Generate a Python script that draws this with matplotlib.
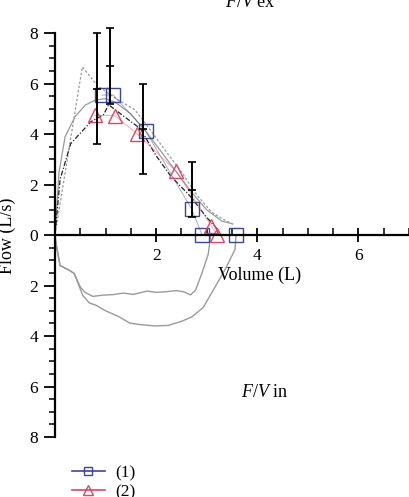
import matplotlib
matplotlib.use("Agg")
import matplotlib.pyplot as plt
from matplotlib.colors import to_rgba
from matplotlib.lines import Line2D
import numpy as np

plt.rcParams["font.family"] = ["Liberation Serif", "DejaVu Serif"]
plt.rcParams["mathtext.fontset"] = "custom"
plt.rcParams["mathtext.it"] = "Liberation Serif:italic"
plt.rcParams["mathtext.rm"] = "Liberation Serif"

# ---- data (volume L, flow L/s; inspiration negative) -----------------
s1_vol = [0.93, 1.15, 1.79, 2.70, 2.91, 3.58]
s1_flow = [5.54, 5.55, 4.13, 1.04, 0.0, 0.0]

s2_vol = [0.79, 1.18, 1.62, 2.40, 3.09, 3.21]
s2_flow = [4.74, 4.73, 4.02, 2.52, 0.36, 0.0]

err_vol = [0.83, 1.09, 1.74, 2.70]
err_mean = [5.8, 6.7, 4.2, 1.8]
err_sd = [2.2, 1.5, 1.8, 1.1]

peak_vol = [0.0, 0.54, 0.85, 1.2, 1.58, 1.76, 2.2, 2.5, 2.8, 3.1, 3.35, 3.55]
peak_flow = [0.0, 6.66, 5.9, 5.41, 4.96, 4.5, 3.3, 2.5, 1.6, 0.9, 0.6, 0.4]

round_vol = [0.0, 0.08, 0.2, 0.4, 0.6, 0.8, 1.0, 1.2, 1.5, 1.8, 2.1, 2.4, 2.7, 3.0, 3.3, 3.5]
round_flow = [0.0, 2.5, 3.9, 4.7, 5.15, 5.35, 5.4, 5.25, 4.8, 4.1, 3.3, 2.5, 1.7, 1.0, 0.55, 0.45]

mean_vol = [0.0, 0.1, 0.31, 0.71, 0.96, 1.06, 1.69, 1.99, 2.29, 2.67, 3.0, 3.22]
mean_flow = [0.0, 2.2, 3.62, 4.49, 4.77, 5.16, 4.21, 3.17, 2.33, 1.55, 0.7, 0.21]

in1_vol = [0.0, 0.02, 0.10, 0.26, 0.38, 0.50, 0.60, 0.75, 0.95, 1.15, 1.35, 1.55,
           1.82, 2.0, 2.22, 2.4, 2.55, 2.68, 2.78, 2.90, 3.03, 3.08]
in1_flow = [0.0, -0.33, -1.21, -1.37, -1.52, -2.06, -2.28, -2.43, -2.38, -2.36, -2.30, -2.35,
            -2.22, -2.27, -2.24, -2.20, -2.25, -2.37, -2.18, -1.54, -0.76, 0.0]

in2_vol = [0.0, 0.02, 0.10, 0.26, 0.38, 0.55, 0.68, 0.81, 1.0, 1.26, 1.48, 1.7,
           1.97, 2.24, 2.51, 2.71, 2.93, 3.15, 3.37, 3.56, 3.58]
in2_flow = [0.0, -0.33, -1.21, -1.37, -1.52, -2.4, -2.69, -2.78, -3.0, -3.23, -3.49, -3.55,
            -3.6, -3.58, -3.41, -3.24, -2.87, -2.11, -1.34, -0.57, 0.0]

yticks = [-8, -6, -4, -2, 0, 2, 4, 6, 8]
ytick_labels = ["8", "6", "4", "2", "0", "2", "4", "6", "8"]
xticks = [2, 4, 6]

BLUE = "#3d4796"
RED = "#d2496a"
GREY = "#9a9a9a"

fig = plt.figure(figsize=(4.09, 4.97), dpi=100)
ax = fig.add_axes([55 / 409, 1 - 437 / 497, 1 - 55 / 409, (437 - 23) / 497])

# gray individual curves
ax.plot(peak_vol, peak_flow, color=GREY, lw=0.9, ls=(0, (2, 1.5)))
ax.plot(round_vol, round_flow, color=GREY, lw=0.9)
ax.plot(in1_vol, in1_flow, color=GREY, lw=1.0)
ax.plot(in2_vol, in2_flow, color=GREY, lw=1.0)
ax.plot(mean_vol, mean_flow, color="#222222", lw=0.9, ls=(0, (4, 1.5, 1, 1.5)))

# series lines (faint) and markers (solid outline)
ax.plot(s1_vol, s1_flow, color=to_rgba(BLUE, 0.45), lw=0.7, marker="s", ms=10,
        mfc="none", mec=BLUE, mew=1.0)
ax.plot(s2_vol, s2_flow, color=to_rgba(RED, 0.45), lw=0.7, marker="^", ms=10,
        mfc="none", mec=RED, mew=1.0)

ax.errorbar(err_vol, err_mean, yerr=err_sd, fmt="_", color="black", ms=6,
            elinewidth=1.4, capsize=3, capthick=1.2, mew=1.2)

# axes styling
ax.set_xlim(0, 7.0)
ax.set_ylim(-8, 8.4)
for side in ("top", "right"):
    ax.spines[side].set_visible(False)
ax.spines["left"].set_position(("data", 0))
ax.spines["bottom"].set_position(("data", 0))
ax.spines["left"].set_bounds(-8, 8)
ax.spines["left"].set_linewidth(1.6)
ax.spines["bottom"].set_linewidth(1.6)

ax.set_yticks(yticks)
ax.set_yticklabels(ytick_labels)
ax.set_yticks(np.arange(-8, 8.01, 0.5), minor=True)
ax.set_xticks(xticks)
ax.set_xticks(np.arange(0.5, 7.01, 0.5), minor=True)
ax.tick_params(axis="y", which="major", direction="out", length=8, width=1.3,
               labelsize=12.5, pad=4)
ax.tick_params(axis="y", which="minor", direction="out", length=4, width=1.1)
ax.tick_params(axis="x", which="major", direction="inout", length=10, width=1.3,
               labelsize=12.5, pad=4)
ax.tick_params(axis="x", which="minor", direction="in", length=5, width=1.1)

# annotations
fig.text(250 / 409, 1 - 7 / 497, "$F/V$ ex", ha="center", va="baseline", fontsize=13)
fig.text(265 / 409, 1 - 397 / 497, "$F/V$ in", ha="center", va="baseline", fontsize=13)
fig.text(260 / 409, 1 - 280 / 497, "Volume (L)", ha="center", va="baseline", fontsize=13)
fig.text(7 / 409, 1 - 236 / 497, "Flow (L/s)", ha="center", va="center",
         rotation=90, fontsize=13)

handles = [
    Line2D([], [], color=BLUE, lw=1.2, marker="s", ms=6, mfc="none", mec=BLUE),
    Line2D([], [], color=RED, lw=1.2, marker="^", ms=7, mfc="none", mec=RED),
]
fig.legend(handles, ["(1)", "(2)"], loc="upper left",
           bbox_to_anchor=(72 / 409, 1 - 465 / 497), frameon=False,
           fontsize=12.5, handlelength=1.9, handletextpad=0.6, labelspacing=0.15,
           borderpad=0, borderaxespad=0)

fig.savefig("out.png", dpi=100)
